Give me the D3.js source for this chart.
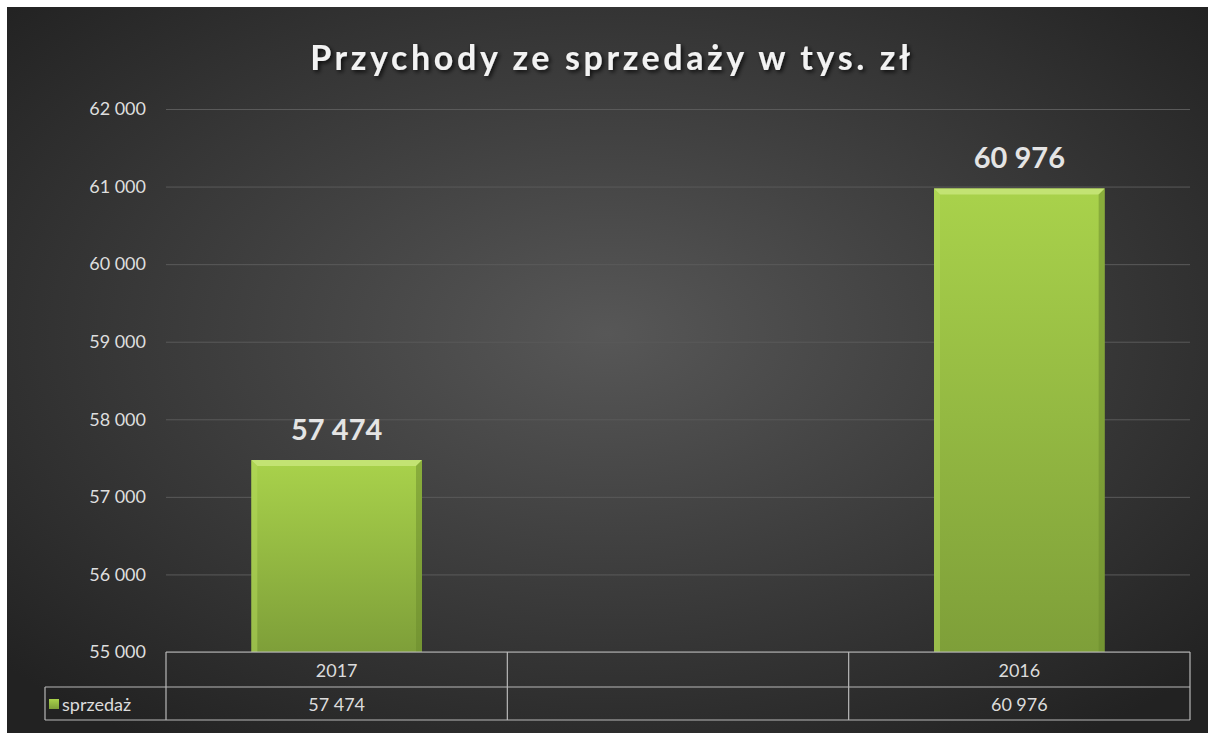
<!DOCTYPE html>
<html>
<head>
<meta charset="utf-8">
<script src="https://cdn.jsdelivr.net/npm/d3@7"></script>
<style>
  body { margin: 0; background: #fff; }
  svg { display: block; }
</style>
</head>
<body>
<div id="chart"></div>
<script>
var categories = ["2017", "", "2016"]
var values = [57474, null, 60976]
var seriesName = "sprzedaż"
var yTicks = [55000, 56000, 57000, 58000, 59000, 60000, 61000, 62000]
var title = "Przychody ze sprzedaży w tys. zł"

var width = 1208, height = 733
var fmt = function(v) { return d3.format(",")(v).replace(/,/g, "\u202f") }

var svg = d3.select("#chart").append("svg")
  .attr("width", width)
  .attr("height", height)

var defs = svg.append("defs")
var bg = defs.append("radialGradient").attr("id", "bg")
  .attr("cx", "50%").attr("cy", "45%").attr("r", "68%")
bg.append("stop").attr("offset", "0%").attr("stop-color", "#575757")
bg.append("stop").attr("offset", "100%").attr("stop-color", "#222222")

var barGrad = defs.append("linearGradient").attr("id", "barGrad")
  .attr("x1", 0).attr("y1", 0).attr("x2", 0).attr("y2", 1)
barGrad.append("stop").attr("offset", "0%").attr("stop-color", "#a9d24b")
barGrad.append("stop").attr("offset", "100%").attr("stop-color", "#7e9f39")

var shadow = defs.append("filter").attr("id", "shadow")
  .attr("x", "-10%").attr("y", "-30%").attr("width", "120%").attr("height", "160%")
shadow.append("feDropShadow").attr("dx", 2).attr("dy", 2).attr("stdDeviation", 2)
  .attr("flood-color", "#000").attr("flood-opacity", 0.8)

svg.append("rect").attr("x", 7).attr("y", 7)
  .attr("width", width - 7).attr("height", height - 7)
  .attr("fill", "url(#bg)")

var plot = { left: 166, right: 1190, top: 109, bottom: 652 }

var x = d3.scaleBand()
  .domain(d3.range(categories.length))
  .range([plot.left, plot.right])
  .paddingInner(0).paddingOuter(0)

var y = d3.scaleLinear()
  .domain([55000, 62000])
  .range([plot.bottom, plot.top])

// gridlines
svg.append("g")
  .selectAll("line")
  .data(yTicks)
  .enter().append("line")
  .attr("x1", plot.left).attr("x2", plot.right)
  .attr("y1", function(d) { return y(d) + 0.5 })
  .attr("y2", function(d) { return y(d) + 0.5 })
  .attr("stroke", "#5a5a5a")
  .attr("stroke-width", 1)

// y axis
var yAxis = svg.append("g")
  .attr("transform", "translate(" + (plot.left - 20) + ",0)")
  .call(d3.axisLeft(y).tickValues(yTicks).tickSize(0).tickFormat(fmt))
yAxis.select(".domain").remove()
yAxis.selectAll("text")
  .attr("fill", "#dedede")
  .attr("font-family", "Lato, 'Open Sans', sans-serif")
  .attr("font-size", 18)
  .attr("x", 0)

// bars
var barW = x.bandwidth() * 0.5
var bev = 6
var bars = svg.append("g")
  .selectAll("g")
  .data(values.map(function(v, i) { return { v: v, i: i } }).filter(function(d) { return d.v != null }))
  .enter().append("g")

bars.each(function(d) {
  var g = d3.select(this)
  var x0 = x(d.i) + (x.bandwidth() - barW) / 2
  var x1 = x0 + barW
  var y0 = y(d.v)
  var y1 = y(55000)
  g.append("rect")
    .attr("x", x0).attr("y", y0)
    .attr("width", barW).attr("height", y1 - y0)
    .attr("fill", "url(#barGrad)")
  // bevel top
  g.append("path")
    .attr("d", "M" + x0 + "," + y0 + "L" + x1 + "," + y0 + "L" + (x1 - bev) + "," + (y0 + bev) + "L" + (x0 + bev) + "," + (y0 + bev) + "Z")
    .attr("fill", "#c8e67a").attr("opacity", 0.85)
  // bevel left
  g.append("path")
    .attr("d", "M" + x0 + "," + y0 + "L" + (x0 + bev) + "," + (y0 + bev) + "L" + (x0 + bev) + "," + y1 + "L" + x0 + "," + y1 + "Z")
    .attr("fill", "#b4d95c").attr("opacity", 0.5)
  // bevel right
  g.append("path")
    .attr("d", "M" + x1 + "," + y0 + "L" + (x1 - bev) + "," + (y0 + bev) + "L" + (x1 - bev) + "," + y1 + "L" + x1 + "," + y1 + "Z")
    .attr("fill", "#6a8a2c").attr("opacity", 0.5)

  g.append("text")
    .attr("x", (x0 + x1) / 2)
    .attr("y", y0 - 20)
    .attr("text-anchor", "middle")
    .attr("fill", "#e4e4e4")
    .attr("font-family", "Lato, 'Open Sans', sans-serif")
    .attr("font-weight", "bold")
    .attr("font-size", 29)
    .text(fmt(d.v))
})

// title
svg.append("text")
  .attr("x", 612)
  .attr("y", 70)
  .attr("text-anchor", "middle")
  .attr("fill", "#f2f2f2")
  .attr("font-family", "Lato, 'Open Sans', sans-serif")
  .attr("font-weight", "bold")
  .attr("font-size", 34)
  .attr("letter-spacing", 3.6)
  .attr("filter", "url(#shadow)")
  .text(title)

// data table
var rowH = [plot.bottom, 687, 720]
var tbl = svg.append("g")
  .attr("stroke", "#b8b8b8").attr("stroke-width", 1.2).attr("fill", "none")
tbl.append("line").attr("x1", plot.left).attr("x2", plot.right).attr("y1", rowH[0]).attr("y2", rowH[0])
tbl.append("line").attr("x1", 45).attr("x2", plot.right).attr("y1", rowH[1]).attr("y2", rowH[1])
tbl.append("line").attr("x1", 45).attr("x2", plot.right).attr("y1", rowH[2]).attr("y2", rowH[2])
tbl.append("line").attr("x1", 45).attr("x2", 45).attr("y1", rowH[1]).attr("y2", rowH[2])
tbl.selectAll(".v")
  .data(d3.range(categories.length + 1))
  .enter().append("line")
  .attr("x1", function(i) { return i < categories.length ? x(i) : plot.right })
  .attr("x2", function(i) { return i < categories.length ? x(i) : plot.right })
  .attr("y1", rowH[0]).attr("y2", rowH[2])

var tt = svg.append("g")
  .attr("fill", "#dcdcdc")
  .attr("font-family", "Lato, 'Open Sans', sans-serif")
  .attr("font-size", 18)
  .attr("text-anchor", "middle")
tt.selectAll(".cat")
  .data(categories)
  .enter().append("text")
  .attr("x", function(d, i) { return x(i) + x.bandwidth() / 2 })
  .attr("y", 677)
  .text(function(d) { return d })
tt.selectAll(".val")
  .data(values)
  .enter().append("text")
  .attr("x", function(d, i) { return x(i) + x.bandwidth() / 2 })
  .attr("y", 711)
  .text(function(d) { return d == null ? "" : fmt(d) })

// legend key
svg.append("rect")
  .attr("x", 49).attr("y", 699).attr("width", 10).attr("height", 10)
  .attr("fill", "url(#barGrad)")
svg.append("text")
  .attr("x", 62).attr("y", 711)
  .attr("fill", "#dcdcdc")
  .attr("font-family", "Lato, 'Open Sans', sans-serif")
  .attr("font-size", 18)
  .text(seriesName)
</script>
</body>
</html>
